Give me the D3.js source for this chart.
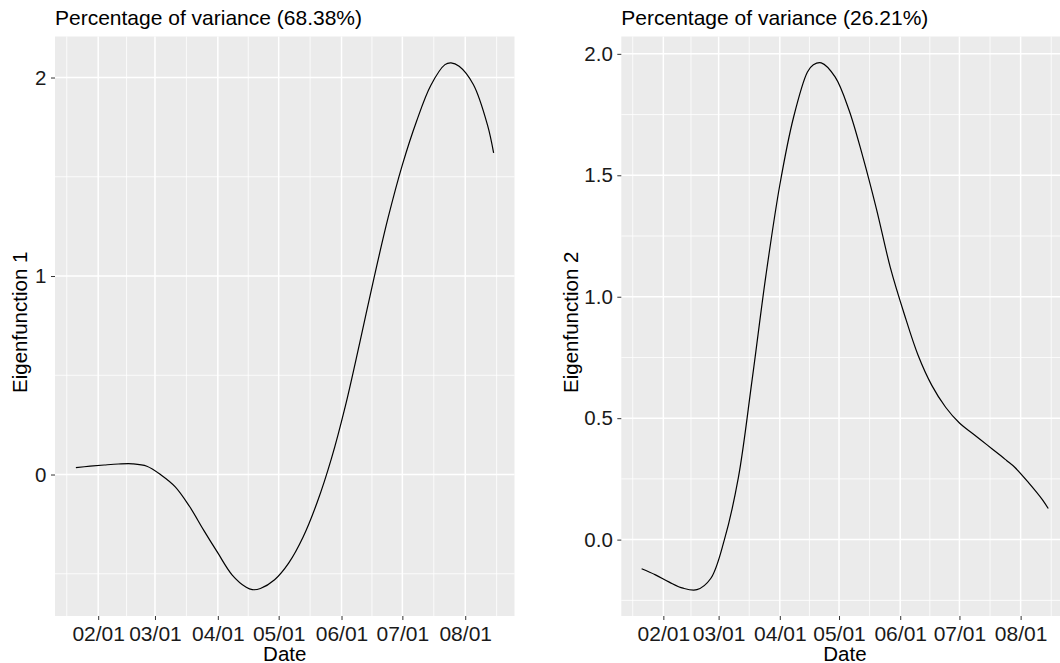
<!DOCTYPE html>
<html>
<head>
<meta charset="utf-8">
<script src="https://cdn.jsdelivr.net/npm/d3@7"></script>
<style>
  body { margin: 0; background: #fff; }
  svg { display: block; font-family: "Liberation Sans", Arial, sans-serif; }
</style>
</head>
<body>
<svg id="chart" width="1060" height="663"></svg>
<script>
// Data
const dates = ["2021-01-21", "2021-01-28", "2021-02-04", "2021-02-11", "2021-02-18", "2021-02-25",
  "2021-03-04", "2021-03-11", "2021-03-18", "2021-03-25", "2021-04-01", "2021-04-08",
  "2021-04-15", "2021-04-18", "2021-04-22", "2021-04-29", "2021-05-06", "2021-05-13",
  "2021-05-20", "2021-05-27", "2021-06-03", "2021-06-10", "2021-06-17", "2021-06-24",
  "2021-07-01", "2021-07-08", "2021-07-15", "2021-07-22", "2021-07-25", "2021-07-29",
  "2021-08-05", "2021-08-12", "2021-08-15"];

const eigen1 = [0.035, 0.042, 0.048, 0.053, 0.054, 0.042,
  -0.002, -0.062, -0.160, -0.280, -0.395, -0.505,
  -0.568, -0.580, -0.574, -0.530, -0.445, -0.316,
  -0.140, 0.080, 0.350, 0.665, 0.990, 1.295,
  1.560, 1.780, 1.960, 2.065, 2.074, 2.057,
  1.965, 1.760, 1.620];

const eigen2 = [-0.120, -0.145, -0.175, -0.200, -0.206, -0.160,
  0.002, 0.255, 0.660, 1.090, 1.460, 1.740,
  1.925, 1.955, 1.963, 1.905, 1.770, 1.578,
  1.360, 1.120, 0.930, 0.760, 0.635, 0.545,
  0.480, 0.435, 0.390, 0.345, 0.325, 0.298,
  0.235, 0.165, 0.128];

const xTicks = ["2021-02-01", "2021-03-01", "2021-04-01", "2021-05-01", "2021-06-01", "2021-07-01", "2021-08-01"];
const yTicks1 = [0, 1, 2];
const yTicks2 = [0, 0.5, 1, 1.5, 2];
const titles = ["Percentage of variance (68.38%)", "Percentage of variance (26.21%)"];
const yTitles = ["Eigenfunction 1", "Eigenfunction 2"];
const xTitle = "Date";

const parse = d3.timeParse("%Y-%m-%d");
const svg = d3.select("#chart");

// ggplot-like panel with 5% expansion
function drawPanel(box, values, yTicks, yFormat, title, yTitle) {
  const data = dates.map((d, i) => ({ date: parse(d), value: values[i] }));

  const xExt = d3.extent(data, d => d.date);
  const xPad = (xExt[1] - xExt[0]) * 0.05;
  const x = d3.scaleTime()
    .domain([new Date(+xExt[0] - xPad), new Date(+xExt[1] + xPad)])
    .range([box.left, box.right]);

  const yExt = d3.extent(data, d => d.value);
  const yPad = (yExt[1] - yExt[0]) * 0.05;
  const y = d3.scaleLinear()
    .domain([yExt[0] - yPad, yExt[1] + yPad])
    .range([box.bottom, box.top]);

  const g = svg.append("g");

  // Panel background
  g.append("rect")
    .attr("x", box.left).attr("y", box.top)
    .attr("width", box.right - box.left)
    .attr("height", box.bottom - box.top)
    .attr("fill", "#EBEBEB");

  // Minor grid (midpoints)
  const months = d3.timeMonth.range(new Date(2020, 11, 1), new Date(2021, 10, 1));
  const xMinor = d3.pairs(months).map(([a, b]) => new Date((+a + +b) / 2))
    .filter(d => x(d) >= box.left && x(d) <= box.right);
  const step = yTicks[1] - yTicks[0];
  const yMinor = d3.range(yTicks[0] - step * 3.5, yTicks[yTicks.length - 1] + step * 3, step)
    .filter(v => y(v) >= box.top && y(v) <= box.bottom);

  g.selectAll(".vminor").data(xMinor).enter().append("line")
    .attr("x1", d => x(d)).attr("x2", d => x(d))
    .attr("y1", box.top).attr("y2", box.bottom)
    .attr("stroke", "#fff").attr("stroke-width", 0.8);

  g.selectAll(".hminor").data(yMinor).enter().append("line")
    .attr("x1", box.left).attr("x2", box.right)
    .attr("y1", d => y(d)).attr("y2", d => y(d))
    .attr("stroke", "#fff").attr("stroke-width", 0.8);

  // Major grid
  const xMajor = xTicks.map(parse);
  g.selectAll(".vmajor").data(xMajor).enter().append("line")
    .attr("x1", d => x(d)).attr("x2", d => x(d))
    .attr("y1", box.top).attr("y2", box.bottom)
    .attr("stroke", "#fff").attr("stroke-width", 1.5);

  g.selectAll(".hmajor").data(yTicks).enter().append("line")
    .attr("x1", box.left).attr("x2", box.right)
    .attr("y1", d => y(d)).attr("y2", d => y(d))
    .attr("stroke", "#fff").attr("stroke-width", 1.5);

  // Curve
  const line = d3.line()
    .x(d => x(d.date))
    .y(d => y(d.value))
    .curve(d3.curveCatmullRom.alpha(0.5));

  g.append("path")
    .datum(data)
    .attr("d", line)
    .attr("fill", "none")
    .attr("stroke", "#000")
    .attr("stroke-width", 1.2);

  // Axes
  const xAxis = g.append("g")
    .attr("transform", "translate(0," + box.bottom + ")")
    .call(d3.axisBottom(x).tickValues(xMajor).tickFormat(d3.timeFormat("%m/%d"))
      .tickSize(4).tickSizeOuter(0).tickPadding(5.6));
  xAxis.select(".domain").remove();
  xAxis.selectAll("text").style("font-size", "21px");

  const yAxis = g.append("g")
    .attr("transform", "translate(" + box.left + ",0)")
    .call(d3.axisLeft(y).tickValues(yTicks).tickFormat(yFormat)
      .tickSize(4).tickSizeOuter(0).tickPadding(4.5));
  yAxis.select(".domain").remove();
  yAxis.selectAll("text").style("font-size", "20.5px");

  g.selectAll(".tick line").attr("stroke", "#333");
  g.selectAll(".tick text")
    .attr("fill", "#1a1a1a")
    .style("font-family", "'Liberation Sans', Arial, sans-serif");

  // Titles
  g.append("text")
    .attr("x", box.left)
    .attr("y", 25)
    .style("font-size", "21px")
    .attr("fill", "#000")
    .text(title);

  g.append("text")
    .attr("x", (box.left + box.right) / 2)
    .attr("y", 660.5)
    .attr("text-anchor", "middle")
    .style("font-size", "20.5px")
    .attr("fill", "#000")
    .text(xTitle);

  g.append("text")
    .attr("transform", "rotate(-90)")
    .attr("x", -(box.top + box.bottom) / 2 + 4)
    .attr("y", box.yTitleX)
    .attr("text-anchor", "middle")
    .style("font-size", "20.5px")
    .attr("fill", "#000")
    .text(yTitle);
}

drawPanel({ left: 55, right: 514.5, top: 36.5, bottom: 616, yTitleX: 26.5 },
  eigen1, yTicks1, d3.format("d"), titles[0], yTitles[0]);
drawPanel({ left: 621.3, right: 1068.6, top: 36.5, bottom: 616, yTitleX: 577.5 },
  eigen2, yTicks2, d3.format(".1f"), titles[1], yTitles[1]);
</script>
</body>
</html>
